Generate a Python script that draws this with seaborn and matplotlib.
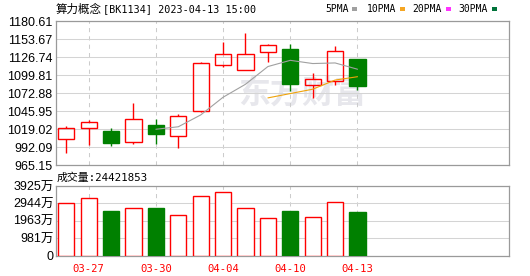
import matplotlib
matplotlib.use("Agg")
import matplotlib.pyplot as plt
import matplotlib.patches as mpatches
import seaborn as sns
import numpy as np
import pandas as pd

# ---------------- data ----------------
dates = ["03-24", "03-27", "03-28", "03-29", "03-30", "03-31", "04-03",
         "04-04", "04-06", "04-07", "04-10", "04-11", "04-12", "04-13"]
opens = [1004.0, 1021.4, 1016.5, 999.6, 1025.4, 1008.5, 1045.9,
         1114.8, 1107.3, 1134.2, 1139.2, 1084.8, 1090.8, 1124.2]
closes = [1020.5, 1029.5, 998.9, 1034.0, 1012.4, 1039.4, 1117.8,
          1131.2, 1131.2, 1144.7, 1086.3, 1093.8, 1135.7, 1084.2]
highs = [1023.5, 1032.9, 1021.4, 1058.4, 1034.9, 1041.9, 1119.7,
         1149.6, 1163.1, 1146.6, 1146.6, 1103.2, 1143.6, 1124.2]
lows = [984.0, 996.0, 994.5, 996.6, 997.5, 991.5, 1045.5,
        1112.7, 1107.3, 1120.2, 1076.3, 1066.3, 1084.8, 1077.8]
volumes = [2972, 3258, 2534, 2686, 2705, 2305, 3372,
           3601, 2686, 2115, 2534, 2172, 3029, 2442]  # 万
ma5 = [np.nan, np.nan, np.nan, np.nan, 1019.1, 1022.8, 1040.5,
       1067.0, 1086.4, 1112.9, 1122.2, 1117.4, 1118.3, 1108.9]
ma10 = [np.nan] * 9 + [1066.0, 1072.5, 1079.0, 1092.7, 1097.7]

price_ticks = [965.15, 992.09, 1019.02, 1045.95, 1072.88, 1099.81, 1126.74, 1153.67, 1180.61]
price_labels = ["965.15", "992.09", "1019.02", "1045.95", "1072.88", "1099.81", "1126.74", "1153.67", "1180.61"]
vol_ticks = [0, 981, 1963, 2944, 3925]
vol_labels = ["0", "981万", "1963万", "2944万", "3925万"]
label_idx = [1, 4, 7, 10, 13]
title_cn = "算力概念"
title_rest = "[BK1134] 2023-04-13 15:00"
vol_title = "成交量:24421853"
legend_names = ["5PMA", "10PMA", "20PMA", "30PMA"]
legend_colors = ["#a0a0a0", "#f5a623", "#ff33ff", "#00733a"]

# ---------------- style ----------------
sns.set_style("white")
plt.rcParams["font.family"] = ["DejaVu Sans", "Noto Sans CJK SC"]
MONO = ["DejaVu Sans Mono", "Noto Sans CJK SC"]
SANS = ["Liberation Sans", "Noto Sans CJK SC"]

RED = "#ff0000"
GREEN = "#008000"
GRID = "#d4d4d4"
BORDER = "#9a9a9a"

W, H = 530, 276
fig = plt.figure(figsize=(W / 100, H / 100), dpi=100)
fig.patch.set_facecolor("white")


def fx(px):
    return px / W


def fy(py):
    return 1 - py / H


L, R = 55.7, 509.3
ax1 = fig.add_axes([fx(L), fy(165.3), (R - L) / W, (165.3 - 21.3) / H])
ax2 = fig.add_axes([fx(L), fy(255.5), (R - L) / W, (255.5 - 186.0) / H])

x = np.arange(len(dates))
xlim = (-0.473, 19.777)
bw = 0.73

for ax in (ax1, ax2):
    ax.set_xlim(*xlim)
    ax.set_facecolor("white")
    for sp in ax.spines.values():
        sp.set_color(BORDER)
        sp.set_linewidth(0.9)
    ax.set_xticks(label_idx)
    ax.grid(axis="x", color="#cccccc", linestyle=(0, (4, 4)), linewidth=0.75)
    ax.grid(axis="y", color=GRID, linestyle="-", linewidth=0.75)
    ax.set_axisbelow(True)
    ax.tick_params(length=0)

# ---------------- price panel ----------------
ax1.set_ylim(price_ticks[0], price_ticks[-1])
ax1.set_yticks(price_ticks, price_labels)
ax1.tick_params(axis="y", pad=2.2, labelsize=9, labelcolor="#000000")
ax1.tick_params(axis="x", labelbottom=False)
for lbl in ax1.get_yticklabels():
    lbl.set_fontfamily(SANS)

# watermark
ax1.text(0.543, 0.49, "东方财富", transform=ax1.transAxes, ha="center", va="center",
         fontsize=23, fontweight="bold", color="#e7e7ec", family=["Noto Sans CJK SC"], zorder=0.5)

up = [c >= o for o, c in zip(opens, closes)]
for i in range(len(dates)):
    o, c, h, l = opens[i], closes[i], highs[i], lows[i]
    top, bot = max(o, c), min(o, c)
    if up[i]:
        ax1.vlines(x[i], top, h, color=RED, linewidth=1.0, zorder=3)
        ax1.vlines(x[i], l, bot, color=RED, linewidth=1.0, zorder=3)
        ax1.bar(x[i], top - bot, bottom=bot, width=bw, facecolor="none",
                edgecolor=RED, linewidth=1.0, zorder=3)
    else:
        ax1.vlines(x[i], l, h, color=GREEN, linewidth=1.0, zorder=3)
        ax1.bar(x[i], top - bot, bottom=bot, width=bw, facecolor=GREEN,
                edgecolor=GREEN, linewidth=1.0, zorder=3)

ma_df = pd.DataFrame({"x": x, "ma5": ma5, "ma10": ma10})
sns.lineplot(data=ma_df, x="x", y="ma5", ax=ax1, color="#a0a0a0", linewidth=0.8, zorder=4)
sns.lineplot(data=ma_df, x="x", y="ma10", ax=ax1, color="#f0a30a", linewidth=0.8, zorder=4)
ax1.set_xlabel("")
ax1.set_ylabel("")
ax1.set_xlim(*xlim)
ax1.set_ylim(price_ticks[0], price_ticks[-1])

# ---------------- volume panel ----------------
ax2.set_ylim(vol_ticks[0], vol_ticks[-1])
ax2.set_yticks(vol_ticks, vol_labels)
ax2.tick_params(axis="y", pad=1.5, labelsize=9, labelcolor="#000000")
for lbl in ax2.get_yticklabels():
    lbl.set_fontfamily(SANS)
ax2.set_xticks(label_idx, [dates[i] for i in label_idx])
ax2.tick_params(axis="x", pad=6.0, labelsize=7.6, labelcolor=RED)
for lbl in ax2.get_xticklabels():
    lbl.set_fontfamily(MONO)

for i in range(len(dates)):
    if up[i]:
        ax2.bar(x[i], volumes[i], width=bw, facecolor="white", edgecolor=RED,
                linewidth=1.0, zorder=3)
    else:
        ax2.bar(x[i], volumes[i], width=bw, facecolor=GREEN, edgecolor=GREEN,
                linewidth=1.0, zorder=3)

# ---------------- texts ----------------
fig.text(fx(56), fy(9), title_cn, ha="left", va="center", fontsize=8.3,
         family=["Noto Sans CJK SC"], color="#000000")
fig.text(fx(103), fy(9), title_rest, ha="left", va="center", fontsize=7.3,
         family=MONO, color="#000000")
fig.text(fx(57), fy(177.7), vol_title, ha="left", va="center", fontsize=7.8,
         family=MONO, color="#000000")

leg_x = [325, 367, 412, 458]
leg_rect = [352, 400, 446, 492]
for name, col, tx, rx in zip(legend_names, legend_colors, leg_x, leg_rect):
    fig.text(fx(tx), fy(9), name, ha="left", va="center", fontsize=7.0,
             family=MONO, color="#000000")
    fig.patches.append(mpatches.Rectangle((fx(rx), fy(10.5)), 5 / W, 3 / H,
                                          transform=fig.transFigure, facecolor=col,
                                          edgecolor="none"))

fig.savefig("out.png", dpi=100)
